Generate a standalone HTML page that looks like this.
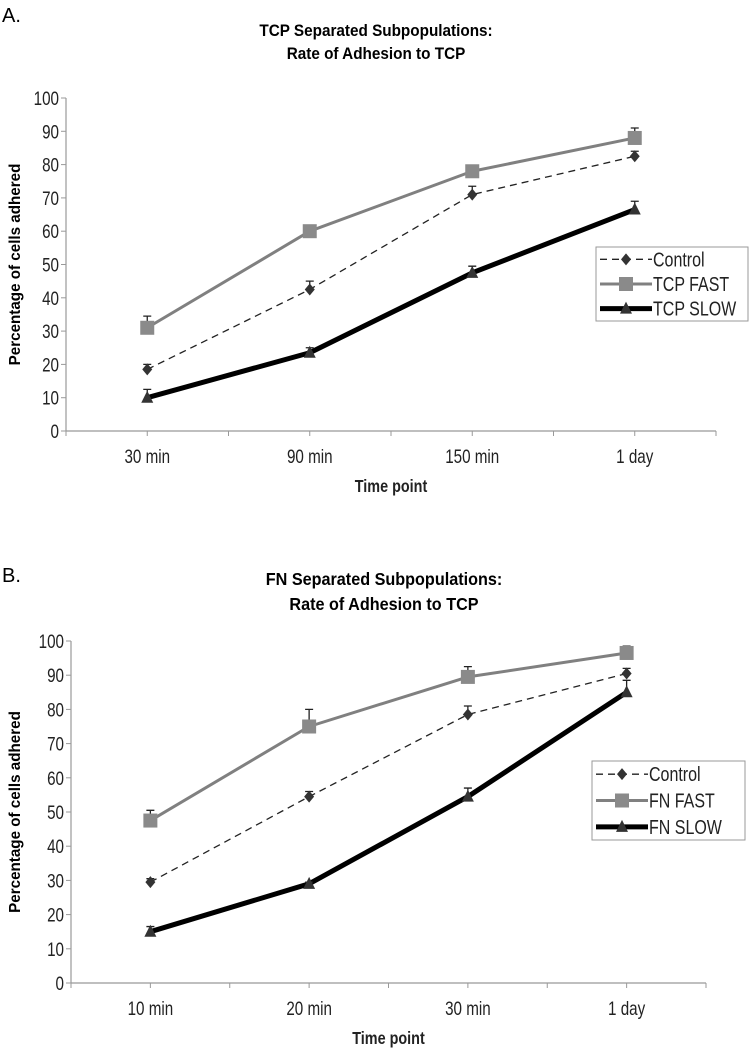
<!DOCTYPE html>
<html><head><meta charset="utf-8"><style>
html,body{margin:0;padding:0;background:#fff;}
svg{display:block;font-family:"Liberation Sans",sans-serif;}
</style></head><body>
<svg id="s" width="753" height="1050" viewBox="0 0 753 1050">
<text x="2" y="22" font-size="20">A.</text>
<text transform="translate(376,36) scale(0.9,1)" font-size="17" font-weight="bold" text-anchor="middle">TCP Separated Subpopulations:</text>
<text transform="translate(376,59) scale(0.9,1)" font-size="17" font-weight="bold" text-anchor="middle">Rate of Adhesion to TCP</text>
<text x="2" y="582" font-size="20">B.</text>
<text transform="translate(384,585) scale(0.9,1)" font-size="18" font-weight="bold" text-anchor="middle">FN Separated Subpopulations:</text>
<text transform="translate(384,610) scale(0.9,1)" font-size="18" font-weight="bold" text-anchor="middle">Rate of Adhesion to TCP</text>
</svg>
<script>
const catsA=["30 min","90 min","150 min","1 day"];
const ctrlA=[18.5,42.5,71,82.5];
const ctrlErrA=[1.5,2.5,2.5,1.5];
const fastA=[31,60,78,88];
const fastErrA=[3.5,1.5,1.5,3];
const slowA=[10,23.5,47.5,66.5];
const slowErrA=[2.5,1.5,2,2.5];
const catsB=["10 min","20 min","30 min","1 day"];
const ctrlB=[29.5,54.5,78.5,90.5];
const ctrlErrB=[1,1.5,2.5,1.5];
const fastB=[47.5,75,89.5,96.5];
const fastErrB=[3,5,3,2];
const slowB=[15,29,54.5,85];
const slowErrB=[1.5,0.5,2.5,3.5];
const yTicks=[0,10,20,30,40,50,60,70,80,90,100];
const namesA=["Control","TCP FAST","TCP SLOW"];
const namesB=["Control","FN FAST","FN SLOW"];

const NS="http://www.w3.org/2000/svg";
const svg=document.getElementById('s');
function mk(tag,at,parent){const e=document.createElementNS(NS,tag);for(const k in at)e.setAttribute(k,at[k]);(parent||svg).appendChild(e);return e;}
function ntext(x,y,size,anchor,parent,extra){
  const at={transform:`translate(${x},${y}) scale(0.8,1)`,'font-size':size,'text-anchor':anchor,fill:'#222'};
  for(const k in (extra||{}))at[k]=extra[k];
  return mk('text',at,parent);
}

function chart(p,cats,series,errs,names,id){
  const g=mk('g',{});
  
  
  const y=v=>p.y0-(v/100)*(p.y0-p.y100);
  const band=(p.x1-p.x0)/cats.length;
  const x=i=>p.x0+band*(i+0.5);
  let e=mk('line',{x1:p.x0,x2:p.x0,y1:p.y100,y2:p.y0,stroke:'#999','stroke-width':1.2},g);
  
  
  e=mk('line',{x1:p.x0,x2:p.x1,y1:p.y0,y2:p.y0,stroke:'#999','stroke-width':1.2},g);
  
  
  yTicks.forEach(t=>{
    mk('line',{x1:p.x0-5,x2:p.x0,y1:y(t),y2:y(t),stroke:'#999'},g);
    const tx=ntext(p.x0-7,y(t)+7,19,'end',g);
    tx.textContent=t;
    
    
  });
  for(let i=0;i<=cats.length*2;i++){const xx=p.x0+band*i/2;mk('line',{x1:xx,x2:xx,y1:p.y0,y2:p.y0+5,stroke:'#999'},g);}
  cats.forEach((c,i)=>{
    const tx=ntext(x(i),p.y0+32,19,'middle',g);
    tx.textContent=c;
    
    
  });
  let t=ntext((p.x0+p.x1)/2,p.y0+61,18,'middle',g,{'font-weight':'bold'});
  t.textContent='Time point';
  
  
  const cy=(p.y0+p.y100)/2;
  t=mk('text',{x:0,y:0,'font-size':16,'font-weight':'bold','text-anchor':'middle',transform:`translate(20,${cy}) rotate(-90) scale(0.95,1)`},g);
  t.textContent='Percentage of cells adhered';
  
  
  const styles=[{c:'#222',w:1.3,d:'7,5'},{c:'#808080',w:3,d:''},{c:'#000',w:5,d:''}];
  const marks=['diamond','square','triangle'];
  function marker(kind,cx,cy2,par){
    if(kind==='diamond')return mk('polygon',{points:`${cx},${cy2-6} ${cx+5},${cy2} ${cx},${cy2+6} ${cx-5},${cy2}`,fill:'#333'},par);
    if(kind==='square')return mk('rect',{x:cx-7,y:cy2-7,width:14,height:14,fill:'#8a8a8a'},par);
    return mk('polygon',{points:`${cx},${cy2-7} ${cx+6},${cy2+5} ${cx-6},${cy2+5}`,fill:'#333'},par);
  }
  series.forEach((s,k)=>{
    const st=styles[k];
    const pl=mk('polyline',{points:s.map((v,i)=>x(i)+','+y(v)).join(' '),fill:'none',stroke:st.c,'stroke-width':st.w,'stroke-dasharray':st.d,'stroke-linejoin':'round'},g);
    
    
    s.forEach((v,i)=>{
      const top=y(v+errs[k][i]);
      const eb=mk('path',{d:`M${x(i)},${y(v)}V${top}M${x(i)-4},${top}H${x(i)+4}`,stroke:'#222','stroke-width':1.3,fill:'none'},g);
      
      
      const m=marker(marks[k],x(i),y(v),g);
      
      
    });
  });
  const L=p.leg;
  const lg=mk('g',{},g);
  
  
  mk('rect',{x:L.x,y:L.y,width:L.w,height:L.h,fill:'#fff',stroke:'#999'},lg);
  names.forEach((n,k)=>{
    const ly=L.y+L.h*(k+0.5)/3;const st=styles[k];
    const ent=mk('g',{},lg);
    
    
    mk('line',{x1:L.x+4,x2:L.x+56,y1:ly,y2:ly,stroke:st.c,'stroke-width':st.w,'stroke-dasharray':st.d},ent);
    marker(marks[k],L.x+30,ly,ent);
    const tx=ntext(L.x+57,ly+7,20,'start',ent);
    tx.textContent=n;
  });
}
chart({x0:66,x1:716,y0:431,y100:98,leg:{x:596,y:247,w:152,h:74}},catsA,[ctrlA,fastA,slowA],[ctrlErrA,fastErrA,slowErrA],namesA,'chart-a');
chart({x0:71,x1:706,y0:983,y100:641,leg:{x:592,y:761,w:153,h:79}},catsB,[ctrlB,fastB,slowB],[ctrlErrB,fastErrB,slowErrB],namesB,'chart-b');
</script>
</body></html>
